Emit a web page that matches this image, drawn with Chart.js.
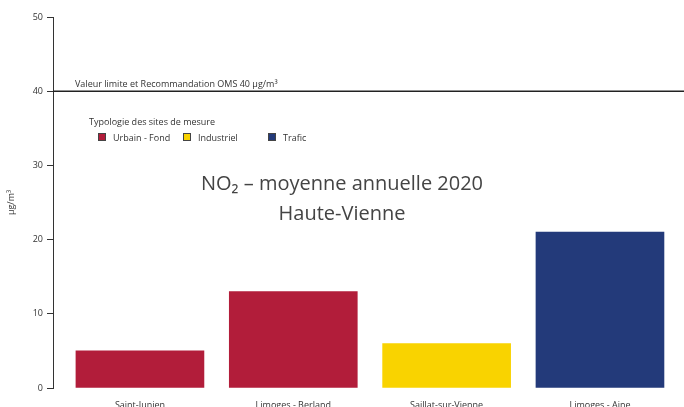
<!DOCTYPE html>
<html>
<head>
<meta charset="utf-8">
<script src="https://cdn.jsdelivr.net/npm/chart.js@4"></script>
<style>
  body { margin: 0; background: #fff; }
  #wrap { width: 684px; height: 407px; }
</style>
</head>
<body>
<div id="wrap"><canvas id="myChart"></canvas></div>
<script>
let sites = ['Saint-Junien', 'Limoges - Berland', 'Saillat-sur-Vienne', 'Limoges - Aine'];
let no2Values = [5, 13, 6, 21];
let siteTypes = ['Urbain - Fond', 'Urbain - Fond', 'Industriel', 'Trafic'];
let typeLabels = ['Urbain - Fond', 'Industriel', 'Trafic'];
let typeColors = ['#B21D3A', '#F9D300', '#233A7A'];
let yTicks = [0, 10, 20, 30, 40, 50];
let limitValue = 40;
let limitLabel = 'Valeur limite et Recommandation OMS 40 µg/m³';

let font = "'Open Sans', sans-serif";

// one dataset per site type so colours follow the legend
let datasets = typeLabels.map((t, k) => ({
  label: t,
  data: sites.map((s, i) => ({ x: i, y: no2Values[i], type: siteTypes[i] }))
    .filter(p => p.type === t),
  backgroundColor: typeColors[k],
  barThickness: 128,
  grouped: false
}));

let extras = {
  id: 'extras',
  afterDatasetsDraw(chart) {
    let c = chart.ctx;
    let a = chart.chartArea;
    let y = chart.scales.y.getPixelForValue(limitValue);
    c.save();
    // limit line
    c.strokeStyle = '#222';
    c.lineWidth = 1.5;
    c.beginPath();
    c.moveTo(a.left, y);
    c.lineTo(chart.width, y);
    c.stroke();
    c.fillStyle = '#333';
    c.font = '9px ' + font;
    c.textBaseline = 'alphabetic';
    c.fillText(limitLabel, 75, y - 4);

    // legend
    c.fillText('Typologie des sites de mesure', 89, 125);
    let xs = [98, 183, 268];
    typeLabels.forEach((t, k) => {
      c.fillStyle = typeColors[k];
      c.fillRect(xs[k], 133, 8, 8);
      c.strokeStyle = '#444';
      c.lineWidth = 1;
      c.strokeRect(xs[k] + 0.5, 133.5, 7, 7);
      c.fillStyle = '#333';
      c.fillText(t, xs[k] + 15, 141);
    });

    // chart title
    c.fillStyle = '#444';
    c.font = '20px ' + font;
    c.textAlign = 'center';
    c.fillText('NO₂ – moyenne annuelle 2020', 342, 190);
    c.fillText('Haute-Vienne', 342, 220);
    c.restore();
  }
};

let ctx = document.getElementById('myChart').getContext('2d');
let myChart = new Chart(ctx, {
  type: 'bar',
  data: { datasets: datasets },
  plugins: [extras],
  options: {
    responsive: true,
    maintainAspectRatio: false,
    animation: false,
    layout: { padding: { top: 17, right: 0, bottom: 0, left: 0 } },
    plugins: {
      legend: { display: false },
      tooltip: { enabled: false }
    },
    scales: {
      x: {
        type: 'linear',
        offset: false,
        min: -0.567,
        max: 3.548,
        grid: { display: false, offset: false },
        border: { display: false },
        afterBuildTicks: (s) => { s.ticks = sites.map((n, i) => ({ value: i })); },
        afterFit: (s) => { s.height = 19; },
        ticks: {
          padding: 4,
          color: '#333',
          font: { family: font, size: 9 },
          autoSkip: false,
          maxRotation: 0,
          callback: (v) => sites[v]
        }
      },
      y: {
        min: 0,
        max: 50,
        afterBuildTicks: (s) => { s.ticks = yTicks.map(v => ({ value: v })); },
        afterFit: (s) => { s.width = 53; },
        grid: { drawOnChartArea: false, tickLength: 6, color: '#333' },
        border: { display: true, color: '#333', width: 1 },
        title: {
          display: true,
          text: 'µg/m³',
          color: '#333',
          font: { family: font, size: 9 },
          padding: { top: 6, bottom: 0 }
        },
        ticks: {
          padding: 4,
          color: '#333',
          font: { family: font, size: 9 }
        }
      }
    }
  }
});
</script>
</body>
</html>
